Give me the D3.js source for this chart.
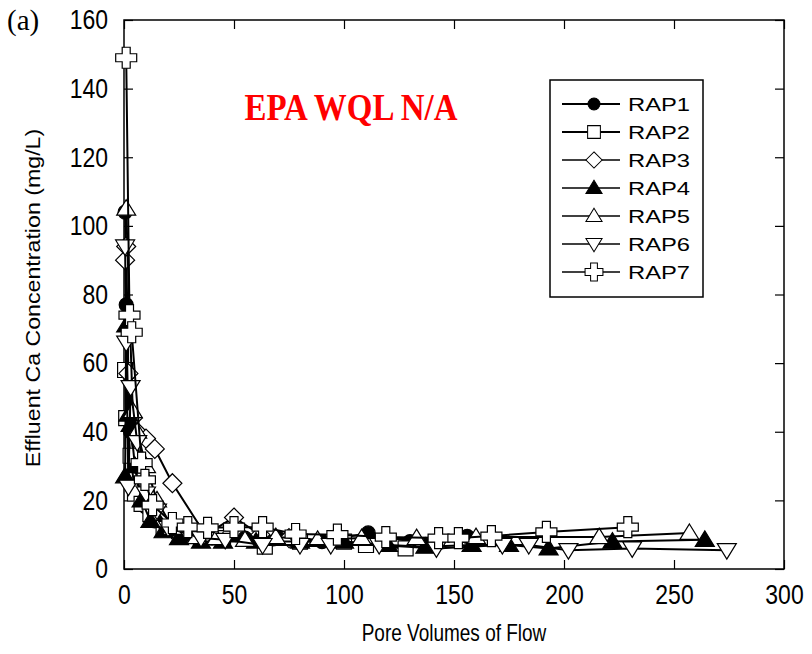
<!DOCTYPE html>
<html>
<head>
<meta charset="utf-8">
<script src="https://cdn.jsdelivr.net/npm/d3@7"></script>
<style>
body{margin:0;background:#fff;}
</style>
</head>
<body>
<svg id="chart" width="812" height="654" font-family="Arial, 'Liberation Sans', sans-serif"></svg>
<script>
// values: [pore volumes, Ca mg/L]
var rap1 = [[0.5,104],[1,77],[2,57],[3,40],[5,30],[7,22],[10,18],[14,14],[20,12],[30,10],[40,9],[55,9],[70,9],[90,8],[111,10.5],[130,8],[156,9.5]];
var rap2 = [[0.5,58],[1,44],[3,33],[5,22],[8,19],[12,16],[18,12],[25,11],[35,9],[45,9],[64,6.5],[80,8],[100,8],[110,7],[128,6]];
var rap3 = [[0.5,90],[1,94],[2,57],[4,44],[6,40],[10,38],[14,35],[22,25],[37,10],[50,15],[62,10],[75,9]];
var rap4 = [[0.5,27],[1,71],[2,45],[3,42],[5,30],[8,20],[12,14],[18,11],[25,9],[35,8],[45,8],[60,8],[80,8],[100,8],[120,7],[137,6.5],[158,7],[175,7],[193,6],[222,8],[264,8.5]];
var rap5 = [[1,105],[4,46],[6,40],[10,30],[15,20],[22,12],[33,9.3],[42,9],[55,8.5],[69,9.3],[88,8.5],[108,9],[133,9],[160,9.3],[216,9.3],[257,10.5]];
var rap6 = [[0.5,94],[1,66],[2,24],[3,53],[6,37],[10,22],[15,17],[20,12],[35,9],[46,8.5],[63,7],[80,7],[94,7],[116,7],[142,6],[172,7],[184,7],[202,5.5],[231,6],[274,5.5]];
var rap7 = [[1,149],[2.5,74],[3.5,69],[8,31],[9.5,26],[13,18.6],[22,13.4],[29,12.2],[38,12],[50,12.2],[63,12.2],[78,10.2],[97,10],[119,9.3],[143,9],[152,9],[167,9.6],[192,10.8],[229,12.2]];

var seriesNames = ['RAP1','RAP2','RAP3','RAP4','RAP5','RAP6','RAP7'];
var seriesData = [rap1, rap2, rap3, rap4, rap5, rap6, rap7];
var seriesShapes = ['circle','square','diamond','triangle','triangle','triangleDown','cross'];
var seriesFills = ['#000','#fff','#fff','#000','#fff','#fff','#fff'];

var xTicks = [0,50,100,150,200,250,300];
var yTicks = [0,20,40,60,80,100,120,140,160];

(function(){
var svg = d3.select('#chart');
var pLeft=124, pRight=784, pTop=20, pBottom=569;
var serif = '"Liberation Serif","Times New Roman",serif';
var stretch = 1.2; // the original picture is a bit taller than wide

var x = d3.scaleLinear().domain([0,300]).range([pLeft,pRight]);
var y = d3.scaleLinear().domain([0,160]).range([pBottom,pTop]);

// marker paths, centred on 0,0
function shapePath(kind){
	var p = d3.path();
	if(kind=='circle'){ p.arc(0,0,7,0,2*Math.PI); }
	else if(kind=='square'){ p.rect(-7.5,-7.5,15,15); }
	else if(kind=='diamond'){ p.moveTo(0,-9.5);p.lineTo(9.5,0);p.lineTo(0,9.5);p.lineTo(-9.5,0);p.closePath(); }
	else if(kind=='triangle'){ p.moveTo(0,-9);p.lineTo(9.5,6.5);p.lineTo(-9.5,6.5);p.closePath(); }
	else if(kind=='triangleDown'){ p.moveTo(0,9);p.lineTo(9.5,-6.5);p.lineTo(-9.5,-6.5);p.closePath(); }
	else if(kind=='cross'){
		var a=4,b=10.5;
		p.moveTo(-a,-b);p.lineTo(a,-b);p.lineTo(a,-a);p.lineTo(b,-a);p.lineTo(b,a);p.lineTo(a,a);
		p.lineTo(a,b);p.lineTo(-a,b);p.lineTo(-a,a);p.lineTo(-b,a);p.lineTo(-b,-a);p.lineTo(-a,-a);p.closePath();
	}
	return p.toString();
}

// frame
svg.append('rect').attr('x',pLeft).attr('y',pTop).attr('width',pRight-pLeft).attr('height',pBottom-pTop)
	.attr('fill','none').attr('stroke','#000').attr('stroke-width',1.5);

// axes with inward ticks
var tickLen=-9;
function noDomain(g){ g.select('.domain').remove(); g.attr('font-family',null).attr('font-size',null); }
var gx = svg.append('g').attr('transform','translate(0,'+pBottom+')')
	.call(d3.axisBottom(x).tickValues(xTicks).tickSize(tickLen)).call(noDomain);
svg.append('g').attr('transform','translate(0,'+pTop+')')
	.call(d3.axisTop(x).tickValues(xTicks).tickSize(tickLen).tickFormat('')).call(noDomain);
var gy = svg.append('g').attr('transform','translate('+pLeft+',0)')
	.call(d3.axisLeft(y).tickValues(yTicks).tickSize(tickLen).tickPadding(16)).call(noDomain);
svg.append('g').attr('transform','translate('+pRight+',0)')
	.call(d3.axisRight(y).tickValues(yTicks).tickSize(tickLen).tickFormat('')).call(noDomain);
svg.selectAll('.tick line').attr('stroke','#000').attr('stroke-width',1.2);
gx.selectAll('.tick text').attr('font-size',23).attr('fill','#000')
	.attr('y',35/stretch).attr('dy',0).attr('transform','scale(1,'+stretch+')');
gy.selectAll('.tick text').attr('font-size',23).attr('fill','#000')
	.attr('transform','scale(1,'+stretch+')');

// lines then markers
var line = d3.line().x(function(d){return x(d[0]);}).y(function(d){return y(d[1]);});
seriesData.forEach(function(data,i){
	var g = svg.append('g');
	g.append('path').datum(data).attr('d',line).attr('fill','none').attr('stroke','#000').attr('stroke-width',2);
	g.selectAll('path.mk').data(data).enter().append('path').attr('class','mk')
		.attr('d',shapePath(seriesShapes[i]))
		.attr('transform',function(d){return 'translate('+x(d[0])+','+y(d[1])+')';})
		.attr('fill',seriesFills[i]).attr('stroke','#000').attr('stroke-width',1.2);
});

// legend
var lg = svg.append('g');
lg.append('rect').attr('x',550).attr('y',80).attr('width',153).attr('height',217)
	.attr('fill','#fff').attr('stroke','#000').attr('stroke-width',1.5);
seriesNames.forEach(function(name,i){
	var yy = 104 + i*28;
	lg.append('line').attr('x1',562).attr('x2',620).attr('y1',yy).attr('y2',yy).attr('stroke','#000').attr('stroke-width',i<2?2:1.5);
	lg.append('path').attr('d',shapePath(seriesShapes[i])).attr('transform','translate(594,'+yy+') scale(0.85)')
		.attr('fill',seriesFills[i]).attr('stroke','#000').attr('stroke-width',1.2);
	lg.append('text').attr('transform','translate(628,'+(yy+7)+') scale(1.25,1)').attr('font-size',19).text(name);
});

// titles
svg.append('text').attr('transform','translate(351,120) scale(1,1.12)').attr('text-anchor','middle')
	.attr('font-family',serif).attr('font-weight','bold')
	.attr('font-size',33).attr('fill','#ff0000').text('EPA WQL N/A');
svg.append('text').attr('x',7).attr('y',30).attr('font-family',serif)
	.attr('font-size',29).text('(a)');
svg.append('text').attr('transform','translate(454,641) scale(0.95,1.15)').attr('text-anchor','middle')
	.attr('font-size',20).text('Pore Volumes of Flow');
svg.append('text').attr('transform','translate(40,298) rotate(-90) scale(1.16,1)').attr('text-anchor','middle')
	.attr('font-size',20).text('Effluent Ca Concentration (mg/L)');
})();
</script>
</body>
</html>
